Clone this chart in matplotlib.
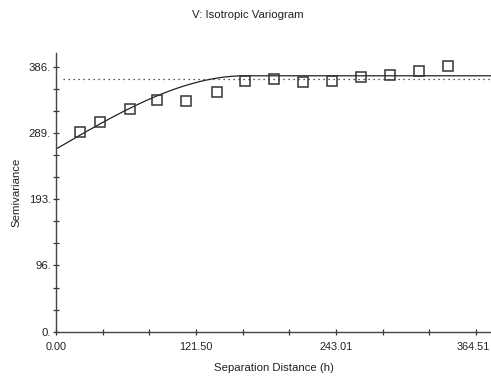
import numpy as np
import matplotlib
matplotlib.use("Agg")
import matplotlib.pyplot as plt
import matplotlib.transforms as mtransforms
from matplotlib.ticker import FixedLocator

# Experimental semivariogram (lag distance, semivariance)
lag = [21.1, 38.5, 64.0, 88.0, 113.1, 139.5, 163.8, 189.0, 214.4, 239.6, 264.8, 290.0, 315.4, 340.5]
gamma = [290.7, 305.7, 325.0, 337.3, 336.3, 348.4, 365.5, 368.0, 363.6, 365.0, 370.8, 374.2, 380.0, 386.3]

# Spherical model parameters
nugget = 266.0
partial_sill = 106.7
model_range = 164.0

# Sample variance (dotted reference)
sample_var = 368.0
sample_var_start = 6.0

x_ticks = [0.0, 121.503, 243.006, 364.509]
x_tick_labels = ["0.00", "121.50", "243.01", "364.51"]
y_ticks = [0.0, 96.5, 193.0, 289.5, 386.0]
y_tick_labels = ["0.", "96.", "193.", "289.", "386."]

plt.rcParams['font.family'] = ['Liberation Sans', 'DejaVu Sans']
FS = 8.2
TXT = '#222222'

fig = plt.figure(figsize=(4.91, 3.78), dpi=100)
ax = fig.add_axes([0.114, 0.1225, 0.886, 0.7375])

xmax = 377.6
ymax = 406.0
ax.set_xlim(0, xmax)
ax.set_ylim(0, ymax)

h = np.linspace(0, xmax, 400)
r = np.clip(h / model_range, 0, 1)
model = nugget + partial_sill * (1.5 * r - 0.5 * r ** 3)
ax.plot(h, model, color='#222222', lw=0.9, zorder=2)

ax.hlines(sample_var, sample_var_start, xmax, colors='#222222',
          linestyles=(0, (1, 3)), lw=0.9, zorder=1)

ax.plot(lag, gamma, linestyle='none', marker='s', markersize=6.6,
        markerfacecolor='none', markeredgecolor='#333333', markeredgewidth=1.1,
        zorder=3)

for side in ('top', 'right'):
    ax.spines[side].set_visible(False)
for side in ('left', 'bottom'):
    ax.spines[side].set_color('#444444')
    ax.spines[side].set_linewidth(1.0)

ax.xaxis.set_major_locator(FixedLocator(x_ticks))
ax.set_xticklabels(x_tick_labels)
ax.yaxis.set_major_locator(FixedLocator(y_ticks))
ax.set_yticklabels(y_tick_labels)

# two minor ticks between each pair of major ticks
x_minor = [a + (b - a) * k / 3 for a, b in zip(x_ticks[:-1], x_ticks[1:]) for k in (1, 2)]
y_minor = [a + (b - a) * k / 3 for a, b in zip(y_ticks[:-1], y_ticks[1:]) for k in (1, 2)]
ax.xaxis.set_minor_locator(FixedLocator(x_minor))
ax.yaxis.set_minor_locator(FixedLocator(y_minor))

ax.tick_params(which='both', direction='inout', length=5, width=0.9,
               color='#333333', labelsize=FS, labelcolor=TXT)
ax.tick_params(axis='x', pad=5, labelsize=7.8)
ax.tick_params(axis='y', pad=1)

# keep the last distance label inside the figure edge
last = ax.get_xticklabels()[-1]
last.set_transform(last.get_transform() +
                   mtransforms.ScaledTranslation(-2.5 / 100, 0, fig.dpi_scale_trans))

ax.set_xlabel("Separation Distance (h)", fontsize=FS, color=TXT, labelpad=8)
ax.set_ylabel("Semivariance", fontsize=FS, color=TXT, labelpad=5)
fig.text(0.505, 0.960, "V: Isotropic Variogram", ha='center', va='center',
         fontsize=FS, color=TXT)

fig.savefig("out.png", dpi=100)
